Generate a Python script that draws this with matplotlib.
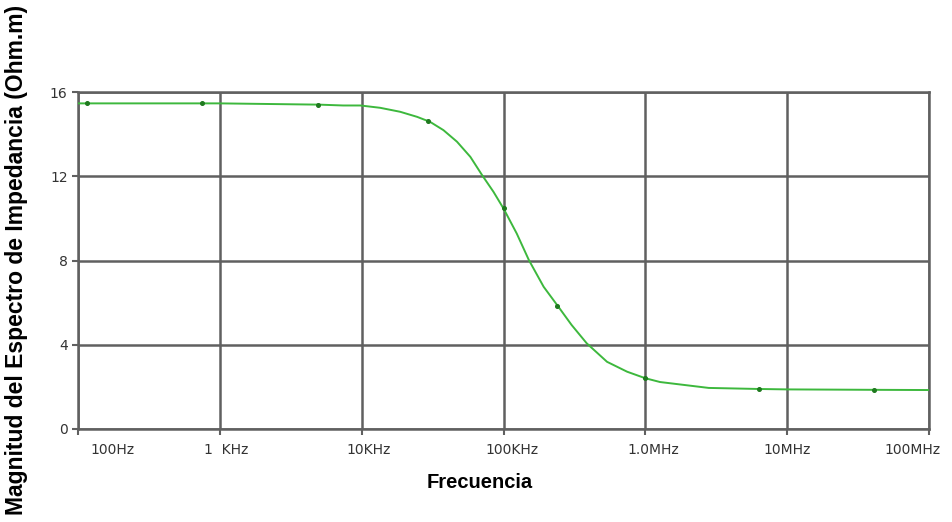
import numpy as np
import matplotlib
matplotlib.use("Agg")
import matplotlib.pyplot as plt
import matplotlib.transforms as mtransforms

# datos (frecuencia en Hz, magnitud en Ohm.m)
freq = [100, 1e3, 5e3, 7.4e3, 9.8e3, 13.5e3, 18.7e3, 24.6e3, 30.4e3, 37.7e3,
        47e3, 58.4e3, 70.7e3, 85e3, 100e3, 124e3, 151e3, 192e3, 244e3,
        302e3, 386e3, 537e3, 744e3, 1e6, 1.27e6, 2.8e6, 6.3e6, 10e6,
        41e6, 100e6]
magnitud = [15.46, 15.46, 15.40, 15.36, 15.36, 15.25, 15.06, 14.82, 14.58, 14.19,
            13.64, 12.92, 12.05, 11.26, 10.47, 9.28, 8.02, 6.75, 5.80,
            4.94, 4.07, 3.19, 2.72, 2.41, 2.23, 1.95, 1.90, 1.88,
            1.86, 1.85]

# puntos marcados sobre la curva
freq_mk = [116, 750, 4.9e3, 29.5e3, 100e3, 240e3, 1e6, 6.3e6, 41e6]
magnitud_mk = [15.46, 15.46, 15.38, 14.6, 10.47, 5.82, 2.41, 1.90, 1.87]

xticks = [1e2, 1e3, 1e4, 1e5, 1e6, 1e7, 1e8]
xtick_labels = ["100Hz", "1  KHz", "10KHz", "100KHz", "1.0MHz", "10MHz", "100MHz"]
yticks = [0, 4, 8, 12, 16]

bold_font = ["Liberation Sans", "DejaVu Sans"]
grid_col = "#606060"

fig = plt.figure(figsize=(9.52, 5.22), dpi=100)
ax = fig.add_axes([78 / 952, 1 - 429 / 522, (929 - 78) / 952, (429 - 92) / 522])

ax.plot(freq, magnitud, color="#3db83d", linewidth=1.4, zorder=3)
ax.plot(freq_mk, magnitud_mk, linestyle="none", marker="o", markersize=2.6,
        color="#1f7a1f", zorder=4)

ax.set_xscale("log")
ax.set_xlim(1e2, 1e8)
ax.set_ylim(0, 16)
ax.set_xticks(xticks)
ax.set_xticklabels(xtick_labels)
ax.minorticks_off()
ax.set_yticks(yticks)

ax.grid(True, color=grid_col, linewidth=1.8)
for sp in ax.spines.values():
    sp.set_color(grid_col)
    sp.set_linewidth(1.8)

ax.tick_params(axis="both", colors=grid_col, width=1.5, length=4,
               labelsize=10, labelcolor="#333333")
ax.tick_params(axis="x", pad=6)

# desplazar un poco las etiquetas del eje x como en el original
offsets = [34, 6, 7, 8, 8, 0, -16]
for lab, dx in zip(ax.get_xticklabels(), offsets):
    lab.set_transform(lab.get_transform() + mtransforms.ScaledTranslation(dx / 100, 0, fig.dpi_scale_trans))

fig.text(480 / 952, 1 - 482 / 522, "Frecuencia", ha="center", va="center",
         fontsize=14.5, fontweight="bold", family=bold_font)
fig.text(17 / 952, 1 - 260 / 522, "Magnitud del Espectro de Impedancia (Ohm.m)", rotation=90,
         ha="center", va="center", fontsize=16.5, fontweight="bold", family=bold_font)

fig.savefig("out.png", dpi=100)
